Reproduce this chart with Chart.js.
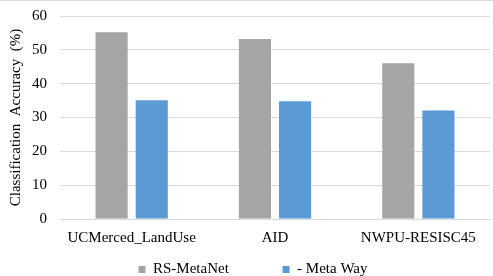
<!DOCTYPE html>
<html>
<head>
<meta charset="utf-8">
<script src="https://cdn.jsdelivr.net/npm/chart.js@4"></script>
<style>
  html, body { margin: 0; padding: 0; background: #fff; overflow: hidden; }
  #wrap { position: relative; width: 493px; height: 276px; overflow: hidden; }
  #linha { position: absolute; left: 0; top: 0; width: 493px; height: 1px; background: #d9d9d9; z-index: 2; }
  #grafico { position: absolute; left: 0; top: -6px; }
</style>
</head>
<body>
<div id="wrap"><div id="linha"></div><canvas id="grafico" width="493" height="283"></canvas></div>
<script>
// dados do grafico
const categorias = ['UCMerced_LandUse', 'AID', 'NWPU-RESISC45'];
const rsMetaNet = [55.2, 53.2, 46.0];
const metaWay = [35.1, 34.8, 32.1];
const ticksY = [0, 10, 20, 30, 40, 50, 60];

const serif = "'Liberation Serif', 'Times New Roman', serif";
Chart.defaults.font.family = serif;
Chart.defaults.color = '#000';

// empurra a legenda um pouco para a direita
const moveLegenda = {
  id: 'moveLegenda',
  afterLayout(chart) {
    chart.legend.left += 8;
    chart.legend.right += 8;
  }
};

new Chart(document.getElementById('grafico'), {
  type: 'bar',
  data: {
    labels: categorias,
    datasets: [
      { label: 'RS-MetaNet', data: rsMetaNet, backgroundColor: '#a5a5a5' },
      { label: '- Meta Way', data: metaWay, backgroundColor: '#5b9bd5' }
    ]
  },
  plugins: [moveLegenda],
  options: {
    responsive: false,
    animation: false,
    categoryPercentage: 0.56,
    barPercentage: 0.8,
    layout: { padding: { top: 1, right: 3, left: 0, bottom: -10 } },
    plugins: {
      tooltip: { enabled: false },
      legend: {
        position: 'bottom',
        labels: {
          font: { family: serif, size: 15 },
          color: '#000',
          boxWidth: 7,
          boxHeight: 7,
          padding: 5,
          // espacos extras para afastar os itens como no original
          generateLabels: (chart) => {
            const itens = Chart.defaults.plugins.legend.labels.generateLabels(chart);
            itens[0].text = itens[0].text + '             ';
            return itens;
          }
        }
      }
    },
    scales: {
      x: {
        grid: { display: false, drawTicks: false },
        border: { color: '#d9d9d9' },
        ticks: { font: { family: serif, size: 15 }, color: '#000', padding: 10, maxRotation: 0, autoSkip: false }
      },
      y: {
        min: 0,
        max: 60,
        afterBuildTicks: (scale) => { scale.ticks = ticksY.map(v => ({ value: v })); },
        afterFit: (scale) => { scale.width = 60; },
        grid: { color: '#d9d9d9', drawTicks: false },
        border: { display: false },
        ticks: { font: { family: serif, size: 15 }, color: '#000', padding: 13 },
        title: {
          display: true,
          text: 'Classification  Accuracy  (%)',
          font: { family: serif, size: 15 },
          color: '#000',
          padding: { top: 7, bottom: 0 }
        }
      }
    }
  }
});
</script>
</body>
</html>
